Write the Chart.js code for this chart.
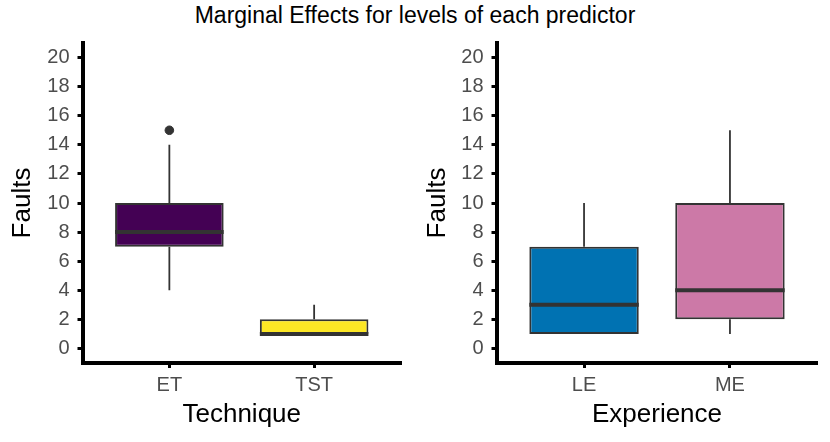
<!DOCTYPE html>
<html>
<head>
<meta charset="utf-8">
<script src="https://cdn.jsdelivr.net/npm/chart.js@4.4.1/dist/chart.umd.min.js"></script>
<style>
  body { margin: 0; background: #fff; width: 830px; height: 442px; position: relative; overflow: hidden; }
  #judul { position: absolute; left: 0; width: 830px; top: 4px; text-align: center;
           font: 23px "Liberation Sans", Arial, sans-serif; line-height: 23px; color: #000; }
  canvas { position: absolute; top: 0; }
  #kiri { left: 0; }
  #kanan { left: 415px; }
</style>
</head>
<body>
<div id="judul">Marginal Effects for levels of each predictor</div>
<canvas id="kiri" width="415" height="442"></canvas>
<canvas id="kanan" width="415" height="442"></canvas>
<script>
// data
const technique_labels = ["ET", "TST"];
const technique_min = [4, 1];
const technique_q1 = [7, 1];
const technique_median = [8, 1];
const technique_q3 = [10, 2];
const technique_max = [14, 3];
const technique_outliers = [[15], []];

const experience_labels = ["LE", "ME"];
const experience_min = [1, 1];
const experience_q1 = [1, 2];
const experience_median = [3, 4];
const experience_q3 = [7, 10];
const experience_max = [10, 15];
const experience_outliers = [[], []];

const y_ticks = [0, 2, 4, 6, 8, 10, 12, 14, 16, 18, 20];

Chart.defaults.font.family = '"Liberation Sans", Arial, sans-serif';
Chart.defaults.animation = false;

const LEBAR_KOTAK = 0.75; // lebar kotak dalam satuan kategori
const WARNA_GARIS = "#333333";

function buatBoxplot(id, labels, lo, q1, med, q3, hi, outl, warna, judulX, sisiKiri, sisiKanan) {
  // kotak (q1..q3) sebagai floating bar
  const kotak = labels.map((l, i) => ({ x: i + 1, y: [q1[i], q3[i]] }));

  // kumis atas dan bawah, dipisah dengan null
  const kumis = [];
  labels.forEach((l, i) => {
    kumis.push({ x: i + 1, y: q3[i] }, { x: i + 1, y: hi[i] }, { x: i + 1, y: null });
    kumis.push({ x: i + 1, y: lo[i] }, { x: i + 1, y: q1[i] }, { x: i + 1, y: null });
  });

  // garis median
  const median = [];
  labels.forEach((l, i) => {
    median.push({ x: i + 1 - LEBAR_KOTAK / 2, y: med[i] }, { x: i + 1 + LEBAR_KOTAK / 2, y: med[i] }, { x: i + 1, y: null });
  });

  // titik pencilan
  const pencilan = [];
  outl.forEach((arr, i) => arr.forEach(v => pencilan.push({ x: i + 1, y: v })));

  const config = {
    type: "bar",
    data: {
      datasets: [
        {
          type: "line",
          data: kumis,
          borderColor: WARNA_GARIS,
          borderWidth: 1.8,
          pointRadius: 0,
          spanGaps: false,
          order: 4,
        },
        {
          type: "bar",
          data: kotak,
          backgroundColor: warna,
          borderColor: WARNA_GARIS,
          borderWidth: 2,
          borderSkipped: false,
          categoryPercentage: 1,
          barPercentage: LEBAR_KOTAK,
          order: 3,
        },
        {
          type: "line",
          data: median,
          borderColor: WARNA_GARIS,
          borderWidth: 4,
          pointRadius: 0,
          spanGaps: false,
          order: 1,
        },
        {
          type: "scatter",
          data: pencilan,
          pointBackgroundColor: WARNA_GARIS,
          pointBorderColor: WARNA_GARIS,
          pointRadius: 4.3,
          order: 0,
        },
      ],
    },
    options: {
      responsive: false,
      layout: { padding: { top: 43, right: sisiKanan, left: 0, bottom: 0 } },
      plugins: { legend: { display: false }, tooltip: { enabled: false }, title: { display: false } },
      scales: {
        x: {
          type: "linear",
          min: 0.4,
          max: 2.6,
          offset: false,
          afterBuildTicks: (scale) => {
            scale.ticks = labels.map((l, i) => ({ value: i + 1 }));
          },
          afterFit: (scale) => { scale.height = 79; },
          ticks: {
            callback: (v) => labels[v - 1],
            color: "#4D4D4D",
            font: { size: 20 },
            padding: 5,
            maxRotation: 0,
            autoSkip: false,
          },
          grid: {
            offset: false,
            drawOnChartArea: false,
            drawTicks: true,
            tickLength: 5,
            tickWidth: 3,
            tickColor: "#000",
          },
          border: { display: true, color: "#000", width: 4 },
          title: {
            display: true,
            text: judulX,
            color: "#000",
            font: { size: 26 },
            padding: { top: 0, bottom: 12 },
          },
        },
        y: {
          min: -1,
          max: 21,
          afterBuildTicks: (scale) => {
            scale.ticks = y_ticks.map(v => ({ value: v }));
          },
          afterFit: (scale) => { scale.width = sisiKiri; },
          ticks: {
            color: "#4D4D4D",
            font: { size: 20 },
            padding: 8,
          },
          grid: {
            drawOnChartArea: false,
            drawTicks: true,
            tickLength: 5,
            tickWidth: 3,
            tickColor: "#000",
          },
          border: { display: true, color: "#000", width: 4 },
          title: {
            display: true,
            text: "Faults",
            color: "#000",
            font: { size: 26 },
            padding: { top: 7, bottom: 0 },
          },
        },
      },
    },
  };
  return new Chart(document.getElementById(id).getContext("2d"), config);
}

const grafik_kiri = buatBoxplot("kiri", technique_labels, technique_min, technique_q1, technique_median,
  technique_q3, technique_max, technique_outliers, ["#440154", "#FDE725"], "Technique", 82.5, 14);
const grafik_kanan = buatBoxplot("kanan", experience_labels, experience_min, experience_q1, experience_median,
  experience_q3, experience_max, experience_outliers, ["#0072B2", "#CC79A7"], "Experience", 81.5, 12.5);
</script>
</body>
</html>
